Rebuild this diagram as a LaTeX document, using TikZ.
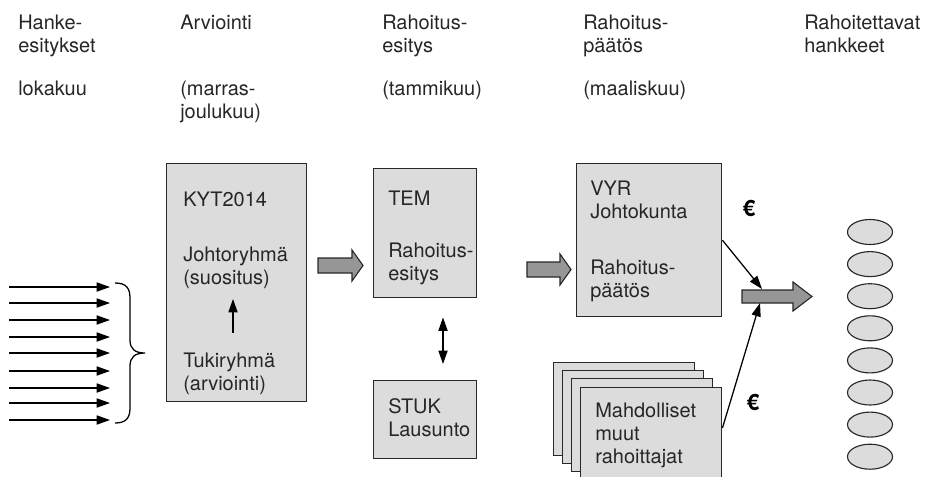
\documentclass[tikz,border=0pt]{standalone}
\usepackage{fontspec}
\setmainfont{TeX Gyre Heros}
\usetikzlibrary{arrows.meta, calc, shapes.geometric}

\definecolor{boxgray}{RGB}{220,220,221}
\definecolor{arrowgray}{RGB}{150,150,150}
\definecolor{linegray}{RGB}{40,40,40}

\tikzset{
  lbl/.style={anchor=north west, inner sep=0pt, align=left, text=black!85,
    font=\fontsize{14.2}{16.4}\selectfont},
  box/.style={draw=linegray, fill=boxgray, line width=1pt, anchor=north west, inner sep=0pt},
  fat/.style={draw=linegray, fill=arrowgray, line width=0.8pt, line join=miter},
  tip/.style={-{Triangle[length=9.5pt, width=6.5pt]}, line width=0.9pt},
  both/.style={{Triangle[length=9.5pt, width=6.5pt]}-{Triangle[length=9.5pt, width=6.5pt]}, line width=0.9pt},
  euro/.style={inner sep=0pt, text=black, font=\bfseries\fontsize{16}{18}\selectfont},
  proj/.style={ellipse, draw=linegray, fill=boxgray, line width=0.8pt,
    minimum width=1.125cm, minimum height=0.625cm, inner sep=0pt}
}

\begin{document}
\begin{tikzpicture}[x=0.025cm, y=-0.025cm]
\useasboundingbox (0,0) rectangle (928,476);

% Headings
\node[lbl] (head1) at (18,15) {Hanke-\\esitykset};
\node[lbl] (time1) at (18,81) {lokakuu};
\node[lbl] (head2) at (180,15) {Arviointi};
\node[lbl] (time2) at (180,81) {(marras-\\joulukuu)};
\node[lbl] (head3) at (382,15) {Rahoitus-\\esitys};
\node[lbl] (time3) at (382,81) {(tammikuu)};
\node[lbl] (head4) at (583,15) {Rahoitus-\\päätös};
\node[lbl] (time4) at (583,81) {(maaliskuu)};
\node[lbl] (head5) at (804,15) {Rahoitettavat\\hankkeet};

% Incoming proposals
\foreach \y [count=\i] in {287,303,320,337,353,371,388,403,420} {
  \coordinate (in\i) at (9,\y);
  \coordinate (out\i) at (110,\y);
  \draw[tip] (in\i) -- (out\i);
}
\draw[line width=0.9pt] (115,283) .. controls (126,283) and (130,288) .. (130,298)
  -- (130,340) .. controls (130,349) and (135,353) .. (145,353)
  .. controls (135,353) and (130,357) .. (130,366)
  -- (130,408) .. controls (130,418) and (126,423) .. (115,423);

% Evaluation
\node[box, minimum width=3.5cm, minimum height=5.95cm] (kyt) at (166,163) {};
\node[lbl] (kyt1) at (183,192) {KYT2014};
\node[lbl] (johto) at (183,247) {Johtoryhmä\\(suositus)};
\node[lbl] (tuki) at (183,353) {Tukiryhmä\\(arviointi)};
\draw[tip] ($(tuki.north west)+(50,-20)$) -- ($(johto.north west)+(50,52)$);

% Funding proposal
\node[box, minimum width=2.575cm, minimum height=3.225cm] (tem) at (373,168) {};
\node[lbl] (tem1) at (388,191) {TEM};
\node[lbl] (tem2) at (388,243) {Rahoitus-\\esitys};
\node[box, minimum width=2.575cm, minimum height=1.95cm] (stuk) at (373,380) {};
\node[lbl] (stuk1) at (388,398) {STUK\\Lausunto};
\draw[both] ($(tem.south west)+(70,19)$) -- ($(stuk.north west)+(70,-16)$);

% Funding decision
\node[box, minimum width=3.625cm, minimum height=3.825cm] (vyr) at (576,163) {};
\node[lbl] (vyr1) at (590,181) {VYR\\Johtokunta};
\node[lbl] (vyr2) at (590,260) {Rahoitus-\\päätös};

% Other funders
\foreach \dx/\dy [count=\i] in {553/362, 562/370, 571/378}
  \node[box, minimum width=3.525cm, minimum height=2.325cm] (muu\i) at (\dx,\dy) {};
\node[box, minimum width=3.525cm, minimum height=2.375cm] (muut) at (580,387) {};
\node[lbl] (muut1) at (595,403) {Mahdolliset\\muut\\rahoittajat};

% Block arrows
\draw[fat] (318,258) -- (352,258) -- (352,250) -- (363,265.5) -- (352,281) -- (352,273) -- (318,273) -- cycle;
\draw[fat] (527,262) -- (560,262) -- (560,254) -- (571,269.5) -- (560,285) -- (560,277) -- (527,277) -- cycle;
\draw[fat] (742,290) -- (793,290) -- (793,282) -- (812,296.5) -- (793,311) -- (793,303) -- (742,303) -- cycle;

% Money flows
\coordinate (hitA) at (762,289);
\coordinate (hitB) at (760,303);
\draw[tip] (vyr.east) -- (hitA);
\draw[tip] ($(muut.north east)+(0,41)$) -- (hitB);
\node[euro] (eur1) at (749,208) {€};
\node[euro] (eur2) at (753,402) {€};

% Funded projects
\foreach \i in {0,...,7}
  \node[proj] (hanke\i) at (870,{232+32.1*\i}) {};

\end{tikzpicture}
\end{document}
